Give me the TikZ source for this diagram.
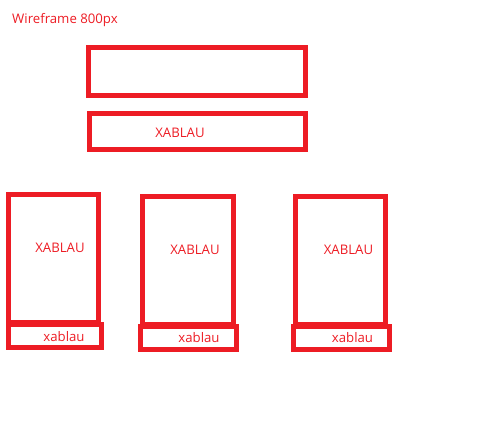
\documentclass[tikz,border=0pt]{standalone}
\usepackage{fontspec}
\setmainfont{Open Sans}
\definecolor{wfred}{HTML}{ED1C24}
\begin{document}
\begin{tikzpicture}[x=1pt,y=-1pt,
  box/.style={draw=wfred, line width=5pt, inner sep=0pt, minimum width=#1},
  lbl/.style={text=wfred, inner sep=0pt, font=\fontsize{13.2}{15}\selectfont}]
\useasboundingbox (0,0) rectangle (491,436);
\node[lbl, anchor=west] (title) at (12,20) {Wireframe 800px};
\node[box=217pt, minimum height=48pt] (header) at (197,71.5) {};
\node[box=216pt, minimum height=36pt] (banner) at (197.5,131.5) {};
\node[lbl] (bannertext) at (180,133) {XABLAU};
% column 1
\node[box=89.7pt, minimum height=128pt] (c1) at (53.3,258.5) {};
\node[box=93pt, minimum height=23pt] (c1s) at (55,336) {};
\node[lbl] (c1t) at (60,248) {XABLAU};
\node[lbl] (c1st) at (64,337) {xablau};
% column 2
\node[box=91pt, minimum height=127.5pt] (c2) at (188,260.25) {};
\node[box=96pt, minimum height=23pt] (c2s) at (188.5,338) {};
\node[lbl] (c2t) at (195,250) {XABLAU};
\node[lbl] (c2st) at (199,338) {xablau};
% column 3
\node[box=90pt, minimum height=127.5pt] (c3) at (340.5,260.25) {};
\node[box=96pt, minimum height=23pt] (c3s) at (341.5,338) {};
\node[lbl] (c3t) at (348.5,250) {XABLAU};
\node[lbl] (c3st) at (352.5,338) {xablau};
\end{tikzpicture}
\end{document}
